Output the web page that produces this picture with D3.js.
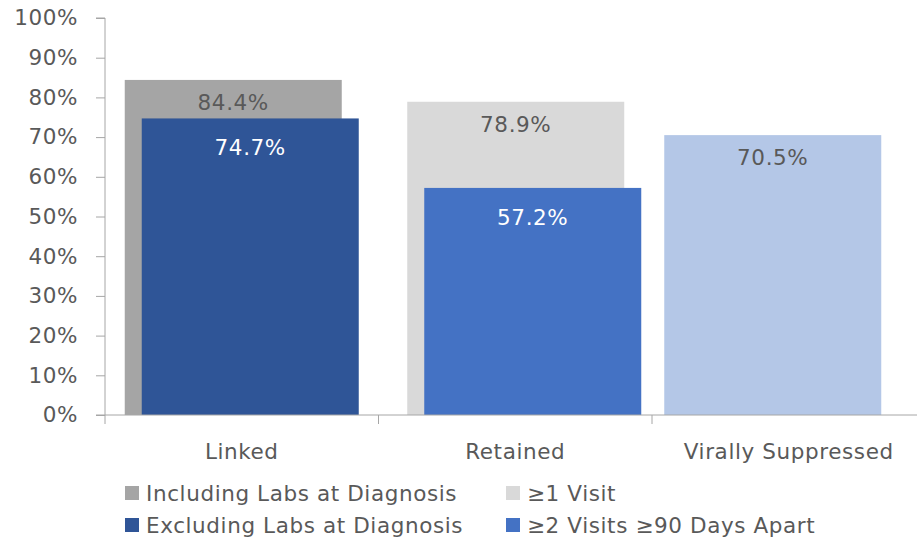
<!DOCTYPE html>
<html><head><meta charset="utf-8">
<script src="https://cdn.jsdelivr.net/npm/d3@7/dist/d3.min.js"></script>
<style>body{margin:0;background:#fff}svg{display:block}text{font-family:"DejaVu Sans",Verdana,sans-serif;letter-spacing:0.6px}</style>
</head><body><svg id="chart" width="917" height="542"></svg>
<script>
const categories = ["Linked", "Retained", "Virally Suppressed"];
const backSeries = ["Including Labs at Diagnosis", "≥1 Visit", "Virally Suppressed"];
const backValues = [84.4, 78.9, 70.5];
const frontSeries = ["Excluding Labs at Diagnosis", "≥2 Visits ≥90 Days Apart", null];
const frontValues = [74.7, 57.2, null];
const yTicks = [0, 10, 20, 30, 40, 50, 60, 70, 80, 90, 100];
const legendItems = ["Including Labs at Diagnosis", "≥1 Visit", "Excluding Labs at Diagnosis", "≥2 Visits ≥90 Days Apart"];

(function () {
const colors = {
  "Including Labs at Diagnosis": "#A5A5A5",
  "Excluding Labs at Diagnosis": "#2F5597",
  "≥1 Visit": "#D9D9D9",
  "≥2 Visits ≥90 Days Apart": "#4472C4",
  "Virally Suppressed": "#B4C7E7"
};
const labelColors = {
  "Including Labs at Diagnosis": "#595959",
  "Excluding Labs at Diagnosis": "#ffffff",
  "≥1 Visit": "#595959",
  "≥2 Visits ≥90 Days Apart": "#ffffff",
  "Virally Suppressed": "#595959"
};

const svg = d3.select("#chart");
const mLeft = 105, mTop = 18, mBottom = 415, bandW = 273.5;
const x = d3.scaleBand().domain(categories).range([mLeft, mLeft + bandW * categories.length]).padding(0);
const y = d3.scaleLinear().domain([0, 100]).range([mBottom, mTop]);
const barW = 217, shift = 17;
const nudge = [0, 9, -16];
const axisColor = "#A6A6A6", textColor = "#595959";
const fontFam = '"DejaVu Sans",Verdana,sans-serif';
const fs = 21.5;

categories.forEach((c, i) => {
  const center = x(c) + x.bandwidth() / 2 + nudge[i];
  const hasFront = frontValues[i] != null;
  const backX = hasFront ? center - (barW + shift) / 2 : center - barW / 2;
  const g = svg.append("g");
  g.append("rect").attr("x", backX).attr("width", barW)
    .attr("y", y(backValues[i])).attr("height", y(0) - y(backValues[i]))
    .attr("fill", colors[backSeries[i]]);
  g.append("text").attr("x", backX + barW / 2).attr("y", y(backValues[i]) + 30)
    .attr("text-anchor", "middle").attr("font-size", fs).attr("fill", labelColors[backSeries[i]])
    .text(backValues[i].toFixed(1) + "%");
  if (hasFront) {
    const fx = backX + shift;
    g.append("rect").attr("x", fx).attr("width", barW)
      .attr("y", y(frontValues[i])).attr("height", y(0) - y(frontValues[i]))
      .attr("fill", colors[frontSeries[i]]);
    g.append("text").attr("x", fx + barW / 2).attr("y", y(frontValues[i]) + 37)
      .attr("text-anchor", "middle").attr("font-size", fs).attr("fill", labelColors[frontSeries[i]])
      .text(frontValues[i].toFixed(1) + "%");
  }
});

const yAxis = svg.append("g").attr("transform", `translate(${mLeft},0)`)
  .call(d3.axisLeft(y).tickValues(yTicks).tickSize(9).tickPadding(18).tickFormat(d => d + "%"));
yAxis.select(".domain").attr("stroke", axisColor).attr("d", `M-9,${y(100)}H0V${y(0)}`);
yAxis.selectAll(".tick line").attr("stroke", axisColor);
yAxis.selectAll(".tick text").attr("font-size", fs).attr("fill", textColor).attr("font-family", fontFam);

const xAxis = svg.append("g").attr("transform", `translate(0,${mBottom})`)
  .call(d3.axisBottom(x).tickSize(0).tickPadding(29));
xAxis.select(".domain").attr("stroke", axisColor).attr("d", `M${mLeft - 9},0H917`);
xAxis.selectAll(".tick text").attr("font-size", fs).attr("fill", textColor).attr("font-family", fontFam);
const boundaries = categories.map(c => x(c));
svg.append("g").selectAll("line").data(boundaries).join("line")
  .attr("x1", d => d).attr("x2", d => d).attr("y1", mBottom).attr("y2", mBottom + 9)
  .attr("stroke", axisColor);

const legend = svg.append("g");
const colX = [125, 506], rowY = [493, 525];
legendItems.forEach((name, i) => {
  const cx = colX[i % 2], cy = rowY[Math.floor(i / 2)];
  legend.append("rect").attr("x", cx).attr("y", cy - 7).attr("width", 14).attr("height", 14)
    .attr("fill", colors[name]);
  legend.append("text").attr("x", cx + 21).attr("y", cy + 8).attr("font-size", fs)
    .attr("fill", textColor).text(name);
});
})();
</script></body></html>
